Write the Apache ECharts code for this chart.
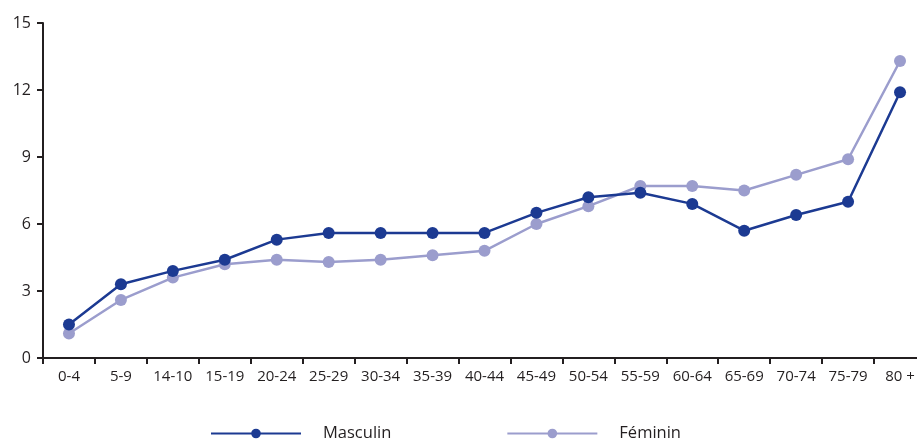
<!DOCTYPE html>
<html><head><meta charset="utf-8">
<script src="https://cdn.jsdelivr.net/npm/echarts@6/dist/echarts.min.js"></script>
<style>html,body{margin:0;padding:0;background:#fff}#c{width:917px;height:441px}</style>
</head><body><div id="c"></div>
<script>
const categories = ['0-4','5-9','14-10','15-19','20-24','25-29','30-34','35-39','40-44','45-49','50-54','55-59','60-64','65-69','70-74','75-79','80 +'];
const masculin = [1.5,3.3,3.9,4.4,5.3,5.6,5.6,5.6,5.6,6.5,7.2,7.4,6.9,5.7,6.4,7.0,11.9];
const feminin  = [1.1,2.6,3.6,4.2,4.4,4.3,4.4,4.6,4.8,6.0,6.8,7.7,7.7,7.5,8.2,8.9,13.3];
const yTicks = [0,3,6,9,12,15];

const font = '"Open Sans", "Noto Sans", sans-serif';
const chart = echarts.init(document.getElementById('c'), null, {renderer:'canvas'});
chart.setOption({
  animation:false,
  backgroundColor:'#fff',
  grid:{left:43, right:-9, top:23, bottom:83, containLabel:false, outerBoundsMode:'none'},
  legend:{
    left:210, top:425, padding:0, itemWidth:90, itemHeight:12, itemGap:115,
    textStyle:{fontFamily:font, fontSize:16.5, color:'#231f20', padding:[0,0,0,17]},
    data:['Masculin','Féminin']
  },
  xAxis:{
    type:'category', data:categories, boundaryGap:true,
    axisLine:{lineStyle:{color:'#231f20', width:2}},
    axisTick:{show:true, alignWithLabel:false, length:6, lineStyle:{color:'#231f20', width:2}},
    axisLabel:{fontFamily:font, fontSize:15, color:'#231f20', margin:11, interval:0},
    splitLine:{show:false}
  },
  yAxis:{
    type:'value', min:yTicks[0], max:yTicks[yTicks.length-1], interval:3,
    axisLine:{show:true, lineStyle:{color:'#231f20', width:2}},
    axisTick:{show:true, length:6, lineStyle:{color:'#231f20', width:2}},
    axisLabel:{fontFamily:font, fontSize:16, color:'#231f20', margin:12},
    splitLine:{show:false}
  },
  series:[
    {name:'Masculin', type:'line', data:masculin, symbol:'circle', symbolSize:12,
     color:'#1c3a92', lineStyle:{width:2.5, color:'#1c3a92'}, itemStyle:{color:'#1c3a92'}, z:3},
    {name:'Féminin', type:'line', data:feminin, symbol:'circle', symbolSize:12,
     color:'#9b9dcd', lineStyle:{width:2.5, color:'#9b9dcd'}, itemStyle:{color:'#9b9dcd'}, z:2}
  ]
});
</script></body></html>
